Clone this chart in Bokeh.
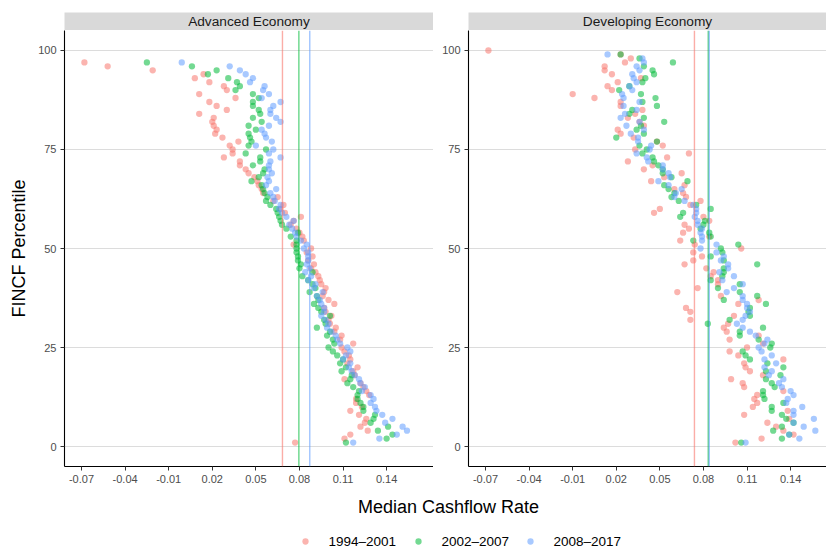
from bokeh.plotting import figure
from bokeh.models import FixedTicker, Span, ColumnDataSource
from bokeh.layouts import row, column
from bokeh.embed import file_html
from bokeh.resources import INLINE
from bokeh.core.properties import value

FONT = "Liberation Sans"

periods = ["1994\u20132001", "2002\u20132007", "2008\u20132017"]
colors = ["#F8766D", "#00BA38", "#619CFF"]
panels = ["Advanced Economy", "Developing Economy"]
x_title = "Median Cashflow Rate"
y_title = "FINCF Percentile"

x_ticks = [-0.07, -0.04, -0.01, 0.02, 0.05, 0.08, 0.11, 0.14]
x_tick_labels = ["-0.07", "-0.04", "-0.01", "0.02", "0.05", "0.08", "0.11", "0.14"]
y_ticks = [0, 25, 50, 75, 100]

# Advanced economy: percentiles 1..97
adv_pct = list(range(1, 98))
adv_1994 = [0.077, 0.111, 0.115, 0.127, 0.122, 0.125, 0.126, 0.121, 0.115, 0.123,
            0.119, 0.119, 0.128, 0.126, 0.124, 0.122, 0.111, 0.118, 0.117, 0.120,
            0.113, 0.115, 0.114, 0.111, 0.109, 0.117, 0.108, 0.109, 0.104, 0.105,
            0.101, 0.100, 0.102, 0.098, 0.097, 0.104, 0.100, 0.096, 0.097, 0.098,
            0.095, 0.094, 0.093, 0.091, 0.088, 0.090, 0.086, 0.089, 0.085, 0.088,
            0.076, 0.083, 0.082, 0.080, 0.078, 0.074, 0.076, 0.081, 0.070, 0.067,
            0.069, 0.062, 0.065, 0.055, 0.054, 0.052, 0.051, 0.049, 0.045, 0.043,
            0.039, 0.039, 0.028, 0.034, 0.034, 0.032, 0.038, 0.027, 0.022, 0.023,
            0.021, 0.020, 0.021, 0.011, 0.030, 0.023, 0.018, 0.036, 0.011, 0.030,
            0.028, 0.018, 0.008, 0.014, -0.021, -0.052, -0.068]
adv_2002 = [0.112, 0.140, 0.144, 0.134, 0.141, 0.129, 0.131, 0.132, 0.124, 0.124,
            0.122, 0.120, 0.120, 0.121, 0.117, 0.113, 0.115, 0.116, 0.109, 0.112,
            0.108, 0.110, 0.106, 0.103, 0.100, 0.104, 0.103, 0.099, 0.101, 0.092,
            0.098, 0.097, 0.101, 0.095, 0.093, 0.090, 0.093, 0.092, 0.087, 0.091,
            0.089, 0.086, 0.082, 0.089, 0.080, 0.081, 0.079, 0.079, 0.078, 0.078,
            0.078, 0.078, 0.074, 0.079, 0.071, 0.068, 0.067, 0.066, 0.065, 0.064,
            0.060, 0.057, 0.058, 0.056, 0.055, 0.054, 0.047, 0.052, 0.055, 0.056,
            0.048, 0.053, 0.053, 0.043, 0.057, 0.045, 0.047, 0.046, 0.045, 0.050,
            0.045, 0.054, 0.048, 0.053, 0.052, 0.048, 0.048, 0.052, 0.048, 0.036,
            0.039, 0.037, 0.031, 0.017, 0.023, 0.006, -0.025]
adv_2008 = [0.117, 0.135, 0.147, 0.154, 0.151, 0.139, 0.144, 0.137, 0.133, 0.132,
            0.129, 0.131, 0.129, 0.123, 0.125, 0.122, 0.121, 0.118, 0.116, 0.114,
            0.115, 0.110, 0.112, 0.115, 0.113, 0.108, 0.106, 0.105, 0.102, 0.099,
            0.100, 0.098, 0.095, 0.097, 0.097, 0.095, 0.094, 0.092, 0.096, 0.090,
            0.091, 0.086, 0.088, 0.084, 0.087, 0.085, 0.086, 0.086, 0.086, 0.083,
            0.085, 0.081, 0.078, 0.077, 0.075, 0.073, 0.076, 0.071, 0.068, 0.066,
            0.067, 0.063, 0.062, 0.060, 0.064, 0.057, 0.059, 0.058, 0.061, 0.059,
            0.059, 0.060, 0.067, 0.059, 0.062, 0.050, 0.061, 0.057, 0.056, 0.054,
            0.059, 0.067, 0.064, 0.060, 0.060, 0.062, 0.067, 0.054, 0.059, 0.055,
            0.056, 0.046, 0.048, 0.043, 0.039, 0.032, -0.001]

# Developing economy
dev_pct_1994 = list(range(1, 101))
dev_pct_other = list(range(1, 100))
dev_1994 = [0.102, 0.120, 0.142, 0.135, 0.130, 0.124, 0.139, 0.108, 0.138, 0.114,
            0.117, 0.115, 0.117, 0.135, 0.108, 0.107, 0.099, 0.121, 0.112, 0.109,
            0.108, 0.135, 0.104, 0.098, 0.110, 0.121, 0.098, 0.118, 0.096, 0.094,
            0.097, 0.071, 0.101, 0.071, 0.068, 0.104, 0.118, 0.092, 0.062, 0.076,
            0.090, 0.090, 0.085, 0.087, 0.082, 0.067, 0.073, 0.079, 0.073, 0.106,
            0.074, 0.064, 0.084, 0.066, 0.070, 0.067, 0.084, 0.080, 0.046, 0.050,
            0.071, 0.078, 0.068, 0.066, 0.060, 0.067, 0.044, 0.053, 0.065, 0.039,
            0.045, 0.028, 0.055, 0.070, 0.033, 0.052, 0.048, 0.032, 0.023, 0.021,
            0.039, 0.036, 0.028, 0.033, 0.038, 0.023, 0.023, 0.005, -0.010, 0.017,
            0.014, 0.021, 0.037, 0.017, 0.012, 0.012, 0.026, 0.030, 0.023, -0.068]
dev_2002 = [0.106, 0.134, 0.139, 0.128, 0.134, 0.142, 0.137, 0.134, 0.127, 0.127,
            0.135, 0.122, 0.121, 0.121, 0.129, 0.127, 0.123, 0.133, 0.123, 0.135,
            0.124, 0.112, 0.109, 0.107, 0.126, 0.127, 0.118, 0.105, 0.105, 0.121,
            0.083, 0.098, 0.112, 0.111, 0.112, 0.123, 0.094, 0.117, 0.105, 0.090,
            0.105, 0.085, 0.093, 0.094, 0.094, 0.117, 0.094, 0.085, 0.093, 0.092,
            0.104, 0.073, 0.085, 0.084, 0.078, 0.080, 0.081, 0.064, 0.066, 0.085,
            0.075, 0.063, 0.058, 0.060, 0.056, 0.053, 0.069, 0.058, 0.052, 0.052,
            0.049, 0.046, 0.045, 0.038, 0.041, 0.036, 0.048, 0.020, 0.039, 0.034,
            0.037, 0.053, 0.039, 0.029, 0.031, 0.048, 0.038, 0.047, 0.037, 0.022,
            0.029, 0.038, 0.040, 0.046, 0.045, 0.039, 0.059, 0.036, 0.023]
dev_2008 = [0.109, 0.146, 0.139, 0.157, 0.149, 0.142, 0.156, 0.142, 0.142, 0.148,
            0.137, 0.138, 0.142, 0.140, 0.134, 0.132, 0.135, 0.125, 0.127, 0.122,
            0.130, 0.122, 0.127, 0.120, 0.118, 0.122, 0.124, 0.116, 0.112, 0.107,
            0.103, 0.107, 0.109, 0.112, 0.110, 0.110, 0.107, 0.107, 0.096, 0.101,
            0.107, 0.093, 0.101, 0.091, 0.097, 0.097, 0.092, 0.094, 0.089, 0.078,
            0.089, 0.079, 0.079, 0.078, 0.079, 0.076, 0.076, 0.074, 0.075, 0.075,
            0.073, 0.067, 0.060, 0.061, 0.065, 0.056, 0.049, 0.057, 0.056, 0.052,
            0.052, 0.042, 0.041, 0.034, 0.043, 0.044, 0.035, 0.035, 0.030, 0.039,
            0.027, 0.036, 0.023, 0.026, 0.034, 0.025, 0.036, 0.025, 0.024, 0.031,
            0.029, 0.034, 0.032, 0.031, 0.036, 0.034, 0.039, 0.038, 0.014]

adv_median = [0.0683, 0.0796, 0.0871]
dev_median = [0.0738, 0.0833, 0.0840]

X_START = -0.0817
PX_PER_UNIT = 1453.0
Y_RANGE = (-5.05, 105.05)

W1 = 433          # left figure width (frame 64..433)
W2 = 826 - W1     # right figure width (frame 468..826)
FRAME_W1 = 369
FRAME_W2 = 358
BORDER_L1 = 64
BORDER_L2 = 35


def strip(width, border_left, label):
    s = figure(width=width, height=30, output_backend="svg", toolbar_location=None,
               x_range=(0, 1), y_range=(0, 1), min_border_left=border_left,
               min_border_right=0, min_border_top=12, min_border_bottom=0,
               x_axis_location=None, y_axis_location=None)
    s.outline_line_color = None
    s.background_fill_color = "#D9D9D9"
    s.border_fill_color = "white"
    s.xgrid.visible = False
    s.ygrid.visible = False
    s.text(x=[0.5], y=[0.5], text=[label], text_font=value(FONT),
           text_font_size="13.7px", text_align="center", text_baseline="middle",
           text_color="#1A1A1A")
    return s


def style(p):
    p.outline_line_color = None
    p.background_fill_color = "white"
    p.border_fill_color = "white"
    p.xgrid.visible = False
    p.ygrid.grid_line_color = "#DCDCDC"
    p.ygrid.grid_line_width = 1.1
    p.ygrid.ticker = FixedTicker(ticks=y_ticks)
    p.xaxis.ticker = FixedTicker(ticks=x_ticks)
    p.xaxis.major_label_overrides = {t: l for t, l in zip(x_ticks, x_tick_labels)}
    p.yaxis.ticker = FixedTicker(ticks=y_ticks)
    for ax in (p.xaxis[0], p.yaxis[0]):
        ax.axis_line_color = "black"
        ax.axis_line_width = 1.1
        ax.major_tick_line_color = "#333333"
        ax.major_tick_out = 4
        ax.major_tick_in = 0
        ax.minor_tick_out = 0
        ax.minor_tick_in = 0
        ax.major_label_text_font = FONT
        ax.major_label_text_font_size = "11px"
        ax.major_label_text_color = "#4D4D4D"
        ax.major_label_standoff = 4


def add_points(p, series, medians):
    for (pct, vals), col in zip(series, colors):
        src = ColumnDataSource(dict(x=vals, y=pct))
        p.scatter("x", "y", source=src, size=6.3, fill_color=col,
                  fill_alpha=0.55, line_color=None)
    for col, med in zip(colors, medians):
        p.add_layout(Span(location=med, dimension="height", line_color=col,
                          line_alpha=0.6, line_width=1.4))


# Left panel: frame 64..433, top 30, bottom 466
p1 = figure(width=W1, height=465, output_backend="svg", toolbar_location=None,
            x_range=(X_START, X_START + FRAME_W1 / PX_PER_UNIT), y_range=Y_RANGE,
            min_border_left=BORDER_L1, min_border_right=0, min_border_top=0,
            min_border_bottom=29)
style(p1)
p1.yaxis.axis_label = y_title
p1.yaxis.axis_label_text_font = FONT
p1.yaxis.axis_label_text_font_size = "18px"
p1.yaxis.axis_label_text_font_style = "normal"
p1.yaxis.axis_label_text_color = "black"
p1.yaxis.axis_label_standoff = 6
add_points(p1, [(adv_pct, adv_1994), (adv_pct, adv_2002), (adv_pct, adv_2008)],
           adv_median)

# Right panel: frame 468..826 (clipped like the reference)
p2 = figure(width=W2, height=465, output_backend="svg", toolbar_location=None,
            x_range=(X_START, X_START + FRAME_W2 / PX_PER_UNIT), y_range=Y_RANGE,
            min_border_left=BORDER_L2, min_border_right=0, min_border_top=0,
            min_border_bottom=29)
style(p2)
add_points(p2, [(dev_pct_1994, dev_1994), (dev_pct_other, dev_2002),
                (dev_pct_other, dev_2008)], dev_median)

s1 = strip(W1, BORDER_L1, panels[0])
s2 = strip(W2, BORDER_L2, panels[1])

# Bottom: x-axis title and legend (pixel coordinates, y downward)
pb = figure(width=826, height=54, output_backend="svg", toolbar_location=None,
            x_range=(0, 826), y_range=(549, 495), min_border=0,
            x_axis_location=None, y_axis_location=None)
pb.outline_line_color = None
pb.xgrid.visible = False
pb.ygrid.visible = False
pb.text(x=[448], y=[506], text=[x_title], text_font=value(FONT),
        text_font_size="18px", text_align="center", text_baseline="middle",
        text_color="black")
dot_x = [305, 418, 530]
pb.scatter(x=dot_x, y=[541] * 3, size=6.3, fill_color=colors, fill_alpha=0.55,
           line_color=None)
pb.text(x=[x + 23 for x in dot_x], y=[541] * 3, text=periods, text_font=value(FONT),
        text_font_size="13.5px", text_align="left", text_baseline="middle",
        text_color="black")

layout = column(row(s1, s2), row(p1, p2), pb)
open("out.html", "w").write(file_html(layout, INLINE))
